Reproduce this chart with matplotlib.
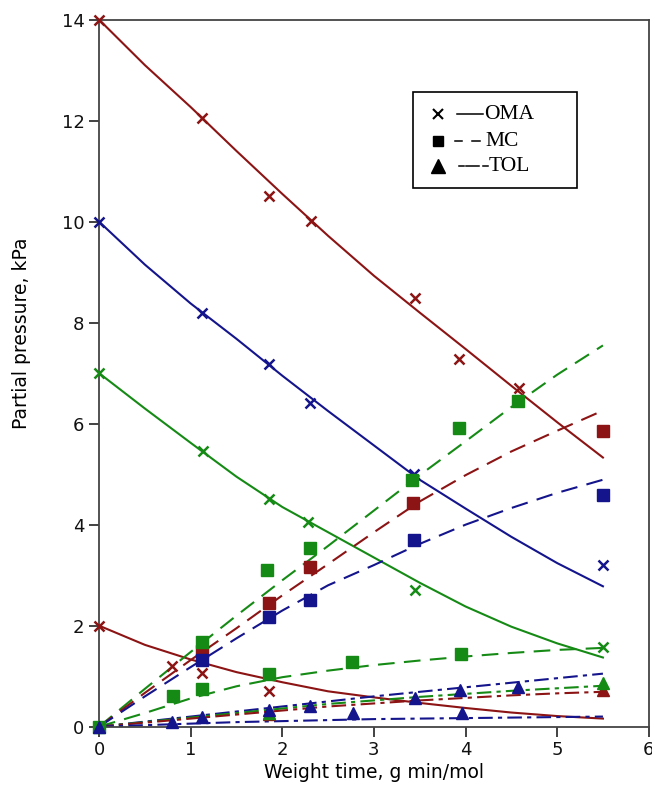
"""Partial pressures vs weight time (OMA, MC, TOL)"""
import matplotlib
matplotlib.use("Agg")
import matplotlib.pyplot as plt
from matplotlib.patches import Rectangle

RED = '#8c1414'
BLUE = '#14148c'
GREEN = '#158a15'

# model curves
t_fit = [0, 0.5, 1, 1.5, 2, 2.5, 3, 3.5, 4, 4.5, 5, 5.5]
oma_red14 = [14.0, 13.1, 12.27, 11.4, 10.55, 9.72, 8.93, 8.2, 7.48, 6.75, 6.03, 5.33]
oma_blue10 = [10.0, 9.15, 8.38, 7.68, 6.95, 6.25, 5.57, 4.89, 4.32, 3.76, 3.24, 2.78]
oma_green7 = [7.0, 6.3, 5.62, 4.95, 4.35, 3.85, 3.35, 2.85, 2.38, 1.98, 1.65, 1.37]
oma_red2 = [2.0, 1.62, 1.33, 1.08, 0.88, 0.7, 0.58, 0.47, 0.37, 0.28, 0.21, 0.16]

mc_green_hi = [0, 0.75, 1.48, 2.2, 2.9, 3.58, 4.28, 4.98, 5.65, 6.33, 6.97, 7.55]
mc_red = [0, 0.67, 1.32, 1.95, 2.6, 3.22, 3.85, 4.46, 4.98, 5.45, 5.86, 6.26]
mc_blue = [0, 0.6, 1.18, 1.75, 2.3, 2.8, 3.2, 3.62, 4.0, 4.33, 4.63, 4.89]
mc_green_lo = [0, 0.27, 0.56, 0.8, 0.98, 1.11, 1.22, 1.31, 1.39, 1.46, 1.52, 1.56]

tol_blue_hi = [0, 0.1, 0.2, 0.3, 0.4, 0.5, 0.6, 0.69, 0.78, 0.87, 0.96, 1.05]
tol_green = [0, 0.09, 0.18, 0.27, 0.36, 0.45, 0.52, 0.59, 0.65, 0.71, 0.76, 0.81]
tol_red = [0, 0.08, 0.16, 0.24, 0.32, 0.4, 0.46, 0.52, 0.57, 0.62, 0.66, 0.69]
tol_blue_lo = [0, 0.03, 0.06, 0.09, 0.11, 0.13, 0.15, 0.16, 0.17, 0.18, 0.19, 0.2]

# measured points
x_red14_t = [0, 1.12, 1.85, 2.31, 3.45, 3.93, 4.58]
x_red14_v = [14, 12.06, 10.5, 10.02, 8.48, 7.29, 6.71]
x_blue10_t = [0, 1.12, 1.85, 2.3, 3.44, 5.5]
x_blue10_v = [10, 8.2, 7.19, 6.4, 5.0, 3.21]
x_green7_t = [0, 1.13, 1.85, 2.28, 3.45, 5.5]
x_green7_v = [7, 5.45, 4.5, 4.06, 2.71, 1.57]
x_red2_t = [0, 0.8, 1.12, 1.85]
x_red2_v = [2, 1.2, 1.07, 0.7]

sq_red_t = [1.12, 1.85, 2.3, 3.43, 5.5]
sq_red_v = [1.49, 2.44, 3.17, 4.42, 5.86]
sq_blue_t = [1.12, 1.85, 2.3, 3.44, 5.5]
sq_blue_v = [1.33, 2.18, 2.51, 3.7, 4.59]
sq_green_t = [0, 1.12, 1.83, 2.3, 3.42, 3.93, 4.57, 0.81, 1.12, 1.85, 2.76, 3.95]
sq_green_v = [0, 1.68, 3.1, 3.54, 4.89, 5.92, 6.44, 0.6, 0.75, 1.05, 1.29, 1.44]

tri_red_t = [1.85, 5.5]
tri_red_v = [0.25, 0.72]
tri_green_t = [1.85, 5.5]
tri_green_v = [0.28, 0.87]
tri_blue_t = [0, 0.8, 1.12, 1.85, 2.3, 2.77, 3.45, 3.94, 3.96, 4.57]
tri_blue_v = [0, 0.1, 0.2, 0.33, 0.4, 0.28, 0.57, 0.73, 0.28, 0.79]

legend_labels = ['OMA', 'MC', 'TOL']

DASH = (0, (8, 4.5))
DASHDOT = (0, (7, 2.5, 2, 2.5))

fig = plt.figure(figsize=(6.52, 7.89), dpi=100)
ax = fig.add_axes([0.152, 0.079, 0.843, 0.896])

# fitted lines
ax.plot(t_fit, oma_red14, color=RED, lw=1.5)
ax.plot(t_fit, oma_blue10, color=BLUE, lw=1.5)
ax.plot(t_fit, oma_green7, color=GREEN, lw=1.5)
ax.plot(t_fit, oma_red2, color=RED, lw=1.5)

ax.plot(t_fit, mc_green_hi, color=GREEN, lw=1.5, ls=DASH)
ax.plot(t_fit, mc_red, color=RED, lw=1.5, ls=DASH)
ax.plot(t_fit, mc_blue, color=BLUE, lw=1.5, ls=DASH)
ax.plot(t_fit, mc_green_lo, color=GREEN, lw=1.5, ls=DASH)

ax.plot(t_fit, tol_blue_hi, color=BLUE, lw=1.5, ls=DASHDOT)
ax.plot(t_fit, tol_green, color=GREEN, lw=1.5, ls=DASHDOT)
ax.plot(t_fit, tol_red, color=RED, lw=1.5, ls=DASHDOT)
ax.plot(t_fit, tol_blue_lo, color=BLUE, lw=1.5, ls=DASHDOT)

# points
mk = dict(ls='none', clip_on=False, zorder=5)
ax.plot(x_red14_t, x_red14_v, 'x', color=RED, ms=7, mew=1.8, **mk)
ax.plot(x_blue10_t, x_blue10_v, 'x', color=BLUE, ms=7, mew=1.8, **mk)
ax.plot(x_green7_t, x_green7_v, 'x', color=GREEN, ms=7, mew=1.8, **mk)
ax.plot(x_red2_t, x_red2_v, 'x', color=RED, ms=7, mew=1.8, **mk)

ax.plot(sq_red_t, sq_red_v, 's', color=RED, ms=8, **mk)
ax.plot(sq_blue_t, sq_blue_v, 's', color=BLUE, ms=8, **mk)
ax.plot(sq_green_t, sq_green_v, 's', color=GREEN, ms=8, **mk)

ax.plot(tri_red_t, tri_red_v, '^', color=RED, ms=8, **mk)
ax.plot(tri_green_t, tri_green_v, '^', color=GREEN, ms=8, **mk)
ax.plot(tri_blue_t, tri_blue_v, '^', color=BLUE, ms=8, **mk)

ax.set_xlim(0, 6)
ax.set_ylim(0, 14)
ax.set_xticks(range(0, 7))
ax.set_yticks(range(0, 15, 2))
ax.tick_params(direction='out', length=7, width=1.3, labelsize=13, colors='#333333')
ax.tick_params(labelcolor='#111111')
for sp in ax.spines.values():
    sp.set_color('#444444')
    sp.set_linewidth(1.3)

ax.set_xlabel("Weight time, g min/mol", fontsize=13.5, labelpad=3)
ax.set_ylabel("Partial pressure, kPa", fontsize=13.5)
ax.yaxis.set_label_coords(-0.124, 0.556)

# legend drawn by hand: marker, line sample, text
tr = ax.transAxes
ax.add_patch(Rectangle((0.571, 0.762), 0.298, 0.136, transform=tr, fill=False,
                       edgecolor='black', lw=1.2, zorder=6))
row_y = [0.866, 0.828, 0.793]
ax.plot([0.616], [row_y[0]], 'x', color='k', ms=7, mew=1.5, transform=tr, zorder=7)
ax.plot([0.616], [row_y[1]], 's', color='k', ms=7, transform=tr, zorder=7)
ax.plot([0.616], [row_y[2]], '^', color='k', ms=10, transform=tr, zorder=7)
ax.plot([0.651, 0.698], [row_y[0]] * 2, color='k', lw=1.1, transform=tr, zorder=7)
ax.plot([0.647, 0.660], [row_y[1]] * 2, color='k', lw=1.1, transform=tr, zorder=7)
ax.plot([0.678, 0.693], [row_y[1]] * 2, color='k', lw=1.1, transform=tr, zorder=7)
ax.plot([0.654, 0.663], [row_y[2]] * 2, color='k', lw=1.1, transform=tr, zorder=7)
ax.plot([0.667, 0.692], [row_y[2]] * 2, color='k', lw=1.1, transform=tr, zorder=7)
ax.plot([0.699, 0.707], [row_y[2]] * 2, color='k', lw=1.1, transform=tr, zorder=7)
text_x = [0.700, 0.703, 0.709]
for lab, tx, ty in zip(legend_labels, text_x, row_y):
    ax.text(tx, ty, lab, transform=tr, ha='left', va='center',
            family='Liberation Serif', fontsize=15.5, zorder=7)

plt.savefig('out.png', dpi=100)
